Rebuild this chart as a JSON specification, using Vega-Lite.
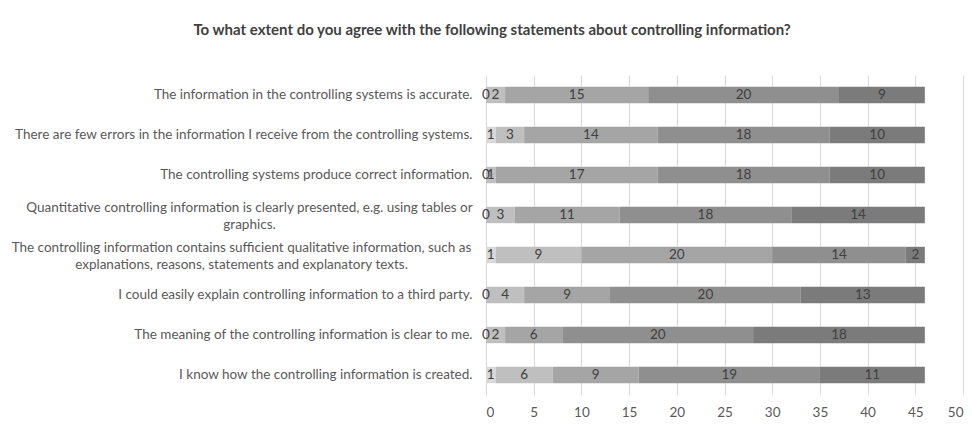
{
  "$schema": "https://vega.github.io/schema/vega-lite/v6.json",
  "width": 477,
  "height": 320,
  "autosize": {"type": "none"},
  "padding": {"left": 486, "top": 75, "right": 9, "bottom": 40},
  "background": "white",
  "config": {"view": {"stroke": null}, "font": "Lato"},
  "title": {
    "text": "To what extent do you agree with the following statements about controlling information?",
    "frame": "bounds",
    "anchor": "middle",
    "offset": 37,
    "dx": 5,
    "font": "Lato",
    "fontSize": 15,
    "fontWeight": "bold",
    "color": "#404040"
  },
  "data": {
    "values": [
      {"s": "The information in the controlling systems is accurate.", "level": 1, "count": 0},
      {"s": "The information in the controlling systems is accurate.", "level": 2, "count": 2},
      {"s": "The information in the controlling systems is accurate.", "level": 3, "count": 15},
      {"s": "The information in the controlling systems is accurate.", "level": 4, "count": 20},
      {"s": "The information in the controlling systems is accurate.", "level": 5, "count": 9},
      {"s": "There are few errors in the information I receive from the controlling systems.", "level": 1, "count": 1},
      {"s": "There are few errors in the information I receive from the controlling systems.", "level": 2, "count": 3},
      {"s": "There are few errors in the information I receive from the controlling systems.", "level": 3, "count": 14},
      {"s": "There are few errors in the information I receive from the controlling systems.", "level": 4, "count": 18},
      {"s": "There are few errors in the information I receive from the controlling systems.", "level": 5, "count": 10},
      {"s": "The controlling systems produce correct information.", "level": 1, "count": 0},
      {"s": "The controlling systems produce correct information.", "level": 2, "count": 1},
      {"s": "The controlling systems produce correct information.", "level": 3, "count": 17},
      {"s": "The controlling systems produce correct information.", "level": 4, "count": 18},
      {"s": "The controlling systems produce correct information.", "level": 5, "count": 10},
      {"s": "Quantitative controlling information is clearly presented, e.g. using tables or|graphics.", "level": 1, "count": 0},
      {"s": "Quantitative controlling information is clearly presented, e.g. using tables or|graphics.", "level": 2, "count": 3},
      {"s": "Quantitative controlling information is clearly presented, e.g. using tables or|graphics.", "level": 3, "count": 11},
      {"s": "Quantitative controlling information is clearly presented, e.g. using tables or|graphics.", "level": 4, "count": 18},
      {"s": "Quantitative controlling information is clearly presented, e.g. using tables or|graphics.", "level": 5, "count": 14},
      {"s": "The controlling information contains sufficient qualitative information, such as|explanations, reasons, statements and explanatory texts.", "level": 1, "count": 1},
      {"s": "The controlling information contains sufficient qualitative information, such as|explanations, reasons, statements and explanatory texts.", "level": 2, "count": 9},
      {"s": "The controlling information contains sufficient qualitative information, such as|explanations, reasons, statements and explanatory texts.", "level": 3, "count": 20},
      {"s": "The controlling information contains sufficient qualitative information, such as|explanations, reasons, statements and explanatory texts.", "level": 4, "count": 14},
      {"s": "The controlling information contains sufficient qualitative information, such as|explanations, reasons, statements and explanatory texts.", "level": 5, "count": 2},
      {"s": "I could easily explain controlling information to a third party.", "level": 1, "count": 0},
      {"s": "I could easily explain controlling information to a third party.", "level": 2, "count": 4},
      {"s": "I could easily explain controlling information to a third party.", "level": 3, "count": 9},
      {"s": "I could easily explain controlling information to a third party.", "level": 4, "count": 20},
      {"s": "I could easily explain controlling information to a third party.", "level": 5, "count": 13},
      {"s": "The meaning of the controlling information is clear to me.", "level": 1, "count": 0},
      {"s": "The meaning of the controlling information is clear to me.", "level": 2, "count": 2},
      {"s": "The meaning of the controlling information is clear to me.", "level": 3, "count": 6},
      {"s": "The meaning of the controlling information is clear to me.", "level": 4, "count": 20},
      {"s": "The meaning of the controlling information is clear to me.", "level": 5, "count": 18},
      {"s": "I know how the controlling information is created.", "level": 1, "count": 1},
      {"s": "I know how the controlling information is created.", "level": 2, "count": 6},
      {"s": "I know how the controlling information is created.", "level": 3, "count": 9},
      {"s": "I know how the controlling information is created.", "level": 4, "count": 19},
      {"s": "I know how the controlling information is created.", "level": 5, "count": 11}
    ]
  },
  "encoding": {
    "y": {
      "field": "s",
      "type": "nominal",
      "sort": [
        "The information in the controlling systems is accurate.",
        "There are few errors in the information I receive from the controlling systems.",
        "The controlling systems produce correct information.",
        "Quantitative controlling information is clearly presented, e.g. using tables or|graphics.",
        "The controlling information contains sufficient qualitative information, such as|explanations, reasons, statements and explanatory texts.",
        "I could easily explain controlling information to a third party.",
        "The meaning of the controlling information is clear to me.",
        "I know how the controlling information is created."
      ],
      "scale": {"paddingInner": 0.59, "paddingOuter": 0.295},
      "axis": {
        "title": null,
        "domain": false,
        "ticks": false,
        "labelExpr": "split(datum.label, '|')",
        "labelLimit": 600,
        "labelFont": "Lato",
        "labelFontSize": 13.5,
        "labelColor": "#595959",
        "labelLineHeight": 17,
        "labelAlign": {"condition": {"test": "indexof(datum.value, '|') >= 0", "value": "center"}, "value": "right"},
        "labelOffset": {"condition": {"test": "indexof(datum.value, '|') >= 0", "value": -7}, "value": 0},
        "labelPadding": {"condition": [
          {"test": "indexof(datum.value, 'Quantitative') >= 0", "value": 237},
          {"test": "indexof(datum.value, 'sufficient') >= 0", "value": 245}
        ], "value": 14}
      }
    }
  },
  "layer": [
    {
      "mark": {"type": "bar"},
      "encoding": {
        "x": {
          "field": "count",
          "type": "quantitative",
          "stack": "zero",
          "scale": {"domain": [0, 50]},
          "axis": {
            "title": null,
            "values": [0, 5, 10, 15, 20, 25, 30, 35, 40, 45, 50],
            "domain": false,
            "ticks": false,
            "grid": true,
            "gridColor": "#d9d9d9",
            "gridWidth": 1,
            "labelFont": "Lato",
            "labelFontSize": 13.5,
            "labelColor": "#595959",
            "labelPadding": 10
          }
        },
        "color": {
          "field": "level",
          "type": "ordinal",
          "scale": {"domain": [1, 2, 3, 4, 5], "range": ["#d9d9d9", "#bfbfbf", "#a5a5a5", "#8f8f8f", "#7b7b7b"]},
          "legend": null
        },
        "order": {"field": "level", "type": "quantitative"}
      }
    },
    {
      "mark": {"type": "text", "font": "Lato", "fontSize": 13.5, "color": "#404040", "baseline": "middle", "align": "center"},
      "encoding": {
        "x": {"field": "count", "type": "quantitative", "stack": "zero", "bandPosition": 0.5},
        "detail": {"field": "level", "type": "ordinal"},
        "order": {"field": "level", "type": "quantitative"},
        "text": {"field": "count", "type": "quantitative"}
      }
    }
  ]
}
